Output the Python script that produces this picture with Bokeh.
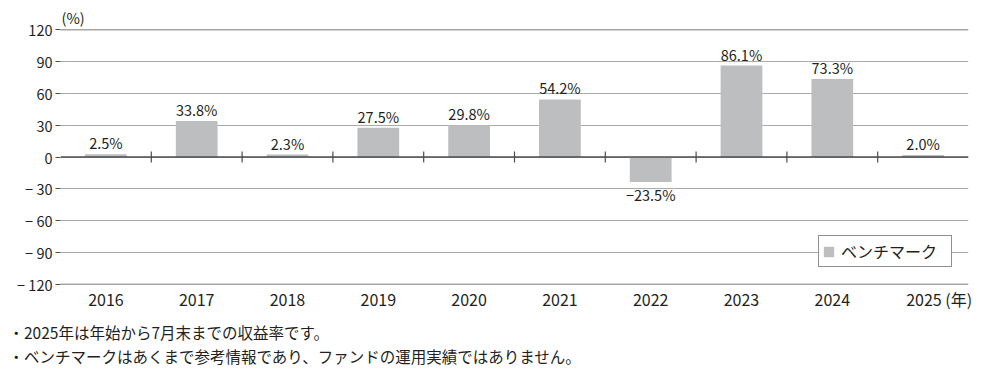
from bokeh.plotting import figure
from bokeh.models import (ColumnDataSource, Range1d, FixedTicker, Span,
                          Title, Legend, LegendItem)
from bokeh.core.properties import value
from bokeh.embed import file_html
from bokeh.resources import INLINE

# ---- data ----
years = ["2016", "2017", "2018", "2019", "2020", "2021", "2022", "2023", "2024", "2025"]
returns = [2.5, 33.8, 2.3, 27.5, 29.8, 54.2, -23.5, 86.1, 73.3, 2.0]
y_ticks = [-120, -90, -60, -30, 0, 30, 60, 90, 120]
series_name = "ベンチマーク"
unit_y = "(%)"
unit_x = "(年)"
notes = [
    "・2025年は年始から7月末までの収益率です。",
    "・ベンチマークはあくまで参考情報であり、ファンドの運用実績ではありません。",
]

FONT = "Noto Sans CJK JP"
TEXT = "#231f20"
BAR = "#bcbec0"
GRID = "#a9aaab"
DARK = "#4d4d4f"


def fmt(v):
    return (f"{v:.1f}%").replace("-", "\u2212")


n_cat = len(years)
xc = [i + 0.5 for i in range(n_cat)]          # category centres on the numeric scale
src = ColumnDataSource(dict(x=xc, val=returns))
pos = ColumnDataSource(dict(x=[x for x, v in zip(xc, returns) if v >= 0],
                            val=[v for v in returns if v >= 0],
                            lab=[fmt(v) for v in returns if v >= 0]))
neg = ColumnDataSource(dict(x=[x for x, v in zip(xc, returns) if v < 0],
                            val=[v for v in returns if v < 0],
                            lab=[fmt(v) for v in returns if v < 0]))
bnd = ColumnDataSource(dict(x=[i + 1 for i in range(n_cat - 1)], zero=[0] * (n_cat - 1)))

p = figure(width=990, height=373, x_range=Range1d(0, n_cat),
           y_range=Range1d(y_ticks[0], y_ticks[-1]), output_backend="svg",
           toolbar_location=None,
           min_border_left=60, min_border_right=22, min_border_top=29, min_border_bottom=89,
           title=None)
p.outline_line_color = None
p.background_fill_color = "white"
p.border_fill_color = "white"

# grid
p.xgrid.grid_line_color = None
p.ygrid.ticker = FixedTicker(ticks=y_ticks)
p.ygrid.grid_line_color = GRID
p.ygrid.grid_line_width = 1
for yv in (y_ticks[0], 0, y_ticks[-1]):
    p.add_layout(Span(location=yv, dimension="width", line_color=DARK, line_width=1.3))

# bars
r = p.vbar(x="x", top="val", bottom=0, width=0.46, source=src,
           fill_color=BAR, line_color=None)

# category boundary ticks on zero line
p.scatter(x="x", y="zero", source=bnd, marker="dash",
          angle=1.5708, size=11, line_color=DARK, line_width=1.2)

# value labels
p.text(x="x", y="val", text="lab", source=pos, text_align="center",
       text_baseline="bottom", y_offset=-1, text_font=value(FONT),
       text_font_size="14.5px", text_color=TEXT)
p.text(x="x", y="val", text="lab", source=neg, text_align="center",
       text_baseline="top", y_offset=2, text_font=value(FONT),
       text_font_size="14.5px", text_color=TEXT)

# axes
p.yaxis.ticker = FixedTicker(ticks=y_ticks)
p.yaxis.major_label_overrides = {t: (str(t).replace("-", "\u2212 ")) for t in y_ticks}
p.yaxis.axis_line_color = None
p.yaxis.major_tick_line_color = DARK
p.yaxis.major_tick_out = 5
p.yaxis.major_tick_in = 0
p.yaxis.minor_tick_line_color = None
p.yaxis.major_label_standoff = 3
p.yaxis.major_label_text_font = FONT
p.yaxis.major_label_text_font_size = "14.5px"
p.yaxis.major_label_text_color = TEXT

xlabels = {x: y for x, y in zip(xc, years)}
xlabels[xc[-1]] = "\u3000\u3000" + years[-1] + " " + unit_x
p.xaxis.ticker = FixedTicker(ticks=xc)
p.xaxis.major_label_overrides = xlabels
p.xaxis.axis_line_color = None
p.xaxis.major_tick_line_color = None
p.xaxis.minor_tick_line_color = None
p.xaxis.major_label_standoff = -4
p.xaxis.major_label_text_font = FONT
p.xaxis.major_label_text_font_size = "16px"
p.xaxis.major_label_text_color = TEXT

# unit label above y axis
p.add_layout(Title(text=unit_y, align="left", offset=1, standoff=3, text_font=FONT,
                   text_font_size="14.5px", text_font_style="normal",
                   text_color=TEXT), "above")

# footnotes (one two-line title)
p.add_layout(Title(text="\n".join(notes), align="left", offset=-52, standoff=10,
                   text_font=FONT, text_font_size="15.5px", text_font_style="normal",
                   text_color=TEXT, text_line_height=1.12), "below")

# legend
leg = Legend(items=[LegendItem(label=series_name, renderers=[r])], location=(758, 17),
             orientation="vertical", border_line_color=TEXT, border_line_width=1,
             background_fill_alpha=1, padding=3, margin=0, glyph_width=13,
             glyph_height=13, label_standoff=6, label_width=107, label_text_font=FONT,
             label_text_font_size="16px", label_text_color=TEXT,
             label_height=13, label_text_line_height=0.8)
p.add_layout(leg, "center")

open("out.html", "w").write(file_html(p, INLINE))
